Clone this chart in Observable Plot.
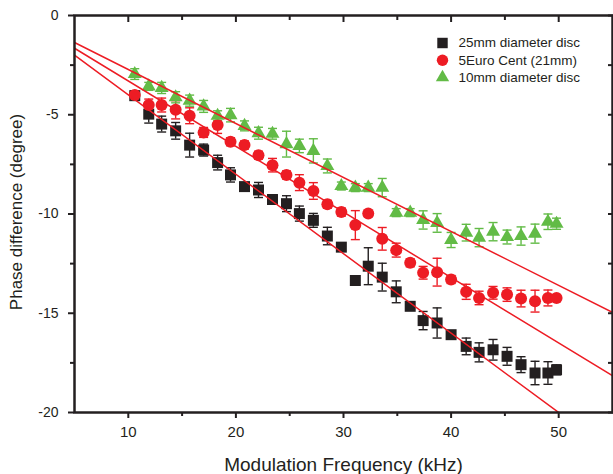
<!DOCTYPE html>
<html>
<head>
<meta charset="utf-8">
<script src="https://cdn.jsdelivr.net/npm/d3@7"></script>
<script src="https://cdn.jsdelivr.net/npm/@observablehq/plot@0.6"></script>
<style>
  html, body { margin: 0; padding: 0; background: white; }
  #chart { width: 613px; height: 474px; }
</style>
</head>
<body>
<div id="chart"></div>
<script>
// ---- data ----
const freq = [10.6, 11.9, 13.1, 14.4, 15.7, 17.0, 18.3, 19.5, 20.8, 22.1, 23.4, 24.7, 25.9, 27.2, 28.5, 29.8,
              31.1, 32.3, 33.6, 34.9, 36.2, 37.4, 38.7, 40.0, 41.4, 42.6, 43.9, 45.2, 46.5, 47.8, 49.0, 49.8];

const disc25 = [-4.04, -4.97, -5.47, -5.81, -6.53, -6.78, -7.41, -8.03, -8.62, -8.79, -9.27, -9.48, -9.98, -10.32, -11.11, -11.67,
                -13.35, -12.63, -13.18, -13.92, -14.65, -15.37, -15.49, -16.08, -16.67, -16.97, -16.84, -17.17, -17.59, -18.01, -18.01, -17.85];
const disc25Err = [0.22, 0.45, 0.4, 0.42, 0.6, 0.3, 0.37, 0.36, 0.2, 0.38, 0.15, 0.4, 0.38, 0.35, 0.44, 0.15,
                   0.1, 0.93, 0.7, 0.55, 0.2, 0.46, 0.76, 0.2, 0.42, 0.48, 0.52, 0.45, 0.4, 0.59, 0.57, 0.25];

const euro5 = [-4.0, -4.51, -4.51, -4.75, -5.05, -5.89, -5.52, -6.36, -6.52, -7.04, -7.54, -8.03, -8.42, -8.84, -9.51, -9.9,
               -10.56, -9.98, -11.25, -11.82, -12.46, -12.96, -12.93, -13.3, -13.92, -14.23, -13.97, -14.06, -14.26, -14.39, -14.23, -14.23];
const euro5Err = [0.2, 0.3, 0.35, 0.46, 0.4, 0.25, 0.42, 0.2, 0.2, 0.2, 0.34, 0.2, 0.4, 0.42, 0.2, 0.2,
                  0.73, 0.15, 0.57, 0.35, 0.2, 0.32, 0.7, 0.2, 0.38, 0.34, 0.32, 0.34, 0.42, 0.55, 0.4, 0.15];

const disc10 = [-2.95, -3.57, -3.65, -4.12, -4.29, -4.58, -5.05, -5.02, -5.56, -5.93, -5.96, -6.48, -6.57, -6.82, -7.58, -8.59,
                -8.67, -8.67, -8.67, -9.93, -9.93, -10.3, -10.45, -11.31, -10.94, -11.19, -10.89, -11.16, -11.11, -10.99, -10.39, -10.49];
const disc10Err = [0.27, 0.2, 0.28, 0.28, 0.28, 0.3, 0.25, 0.34, 0.25, 0.3, 0.27, 0.65, 0.34, 0.61, 0.35, 0.2,
                   0.2, 0.2, 0.46, 0.2, 0.2, 0.46, 0.47, 0.38, 0.42, 0.46, 0.46, 0.35, 0.46, 0.48, 0.39, 0.28];

const seriesNames = ["25mm diameter disc", "5Euro Cent (21mm)", "10mm diameter disc"];
const seriesSymbols = ["square", "circle", "triangle"];
const seriesColors = ["#231f20", "#ed1c24", "#62bb46"];
const fitSlopes = [-0.40, -0.33, -0.272];   // linear fits through the origin

const xMajor = [10, 20, 30, 40, 50];
const xMinor = [15, 25, 35, 45];
const yMajor = [0, -5, -10, -15, -20];
const yMinor = [-2.5, -7.5, -12.5, -17.5];

const xLabel = "Modulation Frequency (kHz)";
const yLabel = "Phase difference (degree)";

// ---- build tables ----
const values = [disc25, euro5, disc10];
const errors = [disc25Err, euro5Err, disc10Err];
const table = [];
values.forEach((vals, s) => vals.forEach((v, i) => table.push({series: s, f: freq[i], v, e: errors[s][i]})));
const fitLines = fitSlopes.map((k, s) => [5, 55].map(f => ({series: s, f, v: k * f})));

const lineColor = "#ed1c24";
const axisColor = "#231f20";
const symR = [6.2, 6.0, 5.2];
const cap = {draw(ctx) { ctx.moveTo(-4.5, 0); ctx.lineTo(4.5, 0); }};

const marks = [];
// error bars
[0, 1, 2].forEach(s => {
  const d = table.filter(r => r.series === s);
  marks.push(Plot.ruleX(d, {x: "f", y1: r => r.v - r.e, y2: r => r.v + r.e, stroke: seriesColors[s], strokeWidth: 1.4}));
  marks.push(Plot.dot(d, {x: "f", y: r => r.v + r.e, symbol: cap, r: 5, fill: "none", stroke: seriesColors[s], strokeWidth: 1.4}));
  marks.push(Plot.dot(d, {x: "f", y: r => r.v - r.e, symbol: cap, r: 5, fill: "none", stroke: seriesColors[s], strokeWidth: 1.4}));
});
// markers
[0, 1, 2].forEach(s => {
  const d = table.filter(r => r.series === s);
  marks.push(Plot.dot(d, {x: "f", y: "v", symbol: seriesSymbols[s], r: symR[s], fill: seriesColors[s], stroke: "none"}));
});
// fit lines
fitLines.forEach(l => marks.push(Plot.line(l, {x: "f", y: "v", stroke: lineColor, strokeWidth: 1.5, clip: true})));

// legend
seriesNames.forEach((name, s) => {
  marks.push(Plot.dot([name], {frameAnchor: "top-left", dx: 368, dy: 27.5 + s * 17.2, symbol: seriesSymbols[s], r: symR[s] * 0.95, fill: seriesColors[s]}));
  marks.push(Plot.text([name], {frameAnchor: "top-left", dx: 384, dy: 27.5 + s * 17.2, text: d => d, textAnchor: "start", lineAnchor: "middle", fontSize: 13.5, fill: axisColor}));
});

// axes
marks.push(Plot.axisY({ticks: yMajor, tickSize: 6, tickPadding: 10, tickFormat: d => String(d), fontSize: 14, label: null, strokeWidth: 2, stroke: axisColor, fill: axisColor}));
marks.push(Plot.axisY({ticks: yMinor, tickSize: 4, tickFormat: () => "", label: null, strokeWidth: 2, stroke: axisColor}));
marks.push(Plot.axisY({anchor: "right", ticks: yMajor.concat(yMinor), tickSize: -5, tickFormat: () => "", label: null, strokeWidth: 2, stroke: axisColor}));
marks.push(Plot.axisX({ticks: xMajor, tickSize: 6, tickPadding: 8, tickFormat: d => String(d), fontSize: 15, label: null, strokeWidth: 2, stroke: axisColor, fill: axisColor}));
marks.push(Plot.axisX({ticks: xMinor, tickSize: 4, tickFormat: () => "", label: null, strokeWidth: 2, stroke: axisColor}));
marks.push(Plot.axisX({anchor: "top", ticks: xMajor, tickSize: -6, tickFormat: () => "", label: null, strokeWidth: 2, stroke: axisColor}));
marks.push(Plot.axisX({anchor: "top", ticks: xMinor, tickSize: -4, tickFormat: () => "", label: null, strokeWidth: 2, stroke: axisColor}));
marks.push(Plot.frame({stroke: axisColor, strokeWidth: 2.5}));

// axis titles
marks.push(Plot.text([xLabel], {frameAnchor: "bottom", dy: 52, text: d => d, textAnchor: "middle", lineAnchor: "middle", fontSize: 19, fill: axisColor}));
marks.push(Plot.text([yLabel], {frameAnchor: "left", dx: -58, dy: -2, rotate: -90, text: d => d, textAnchor: "middle", lineAnchor: "middle", fontSize: 17, fill: axisColor}));

const chart = Plot.plot({
  width: 613,
  height: 474,
  marginTop: 15,
  marginRight: 1,
  marginBottom: 62,
  marginLeft: 74,
  x: {domain: [5, 55]},
  y: {domain: [-20, 0]},
  style: {fontFamily: "'Liberation Sans', Arial, sans-serif", color: axisColor, background: "white"},
  marks
});
document.getElementById("chart").appendChild(chart);
</script>
</body>
</html>
